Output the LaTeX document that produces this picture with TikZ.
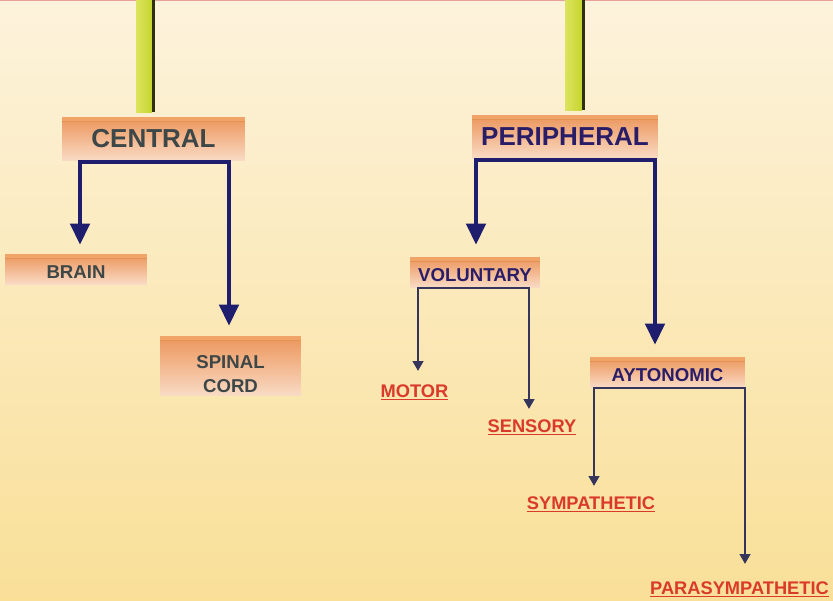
\documentclass[tikz,border=0pt]{standalone}
\usepackage{fontspec}
\setmainfont{Liberation Sans}
\usetikzlibrary{arrows.meta,calc}

\definecolor{bgtop}{HTML}{FDF3DC}
\definecolor{bgbot}{HTML}{F9DF98}
\definecolor{topline}{HTML}{E7A39A}
\definecolor{boxtop}{HTML}{EC955A}
\definecolor{boxbot}{HTML}{F9DAC4}
\definecolor{boxband}{HTML}{F0A468}
\definecolor{graytext}{HTML}{3D4747}
\definecolor{navytext}{HTML}{2A1D68}
\definecolor{redtext}{HTML}{D93A2A}
\definecolor{bignavy}{HTML}{1F1D6E}
\definecolor{smallnavy}{HTML}{35355C}
\definecolor{pipegreen}{HTML}{C6D52E}
\definecolor{pipelight}{HTML}{DCE45E}
\definecolor{pipedark}{HTML}{2E300E}

% underlined red labels
\newcommand{\ulabel}[1]{\setbox0\hbox{#1}\rlap{\rule[-1.7pt]{\wd0}{0.7pt}}\box0}

\tikzset{
  box/.style={inner sep=0pt, top color=boxtop, bottom color=boxbot,
    path picture={\fill[boxband] (path picture bounding box.north west)
      rectangle ([yshift=-2.6pt]path picture bounding box.north east);
      \draw[boxtop!80!brown, line width=0.4pt]
        ([yshift=-2.6pt]path picture bounding box.north west)
        -- ([yshift=-2.6pt]path picture bounding box.north east);}},
  bigbox/.style={box, minimum height=0.86cm, text height=1.03em,
    font=\bfseries\fontsize{14.8}{16}\selectfont},
  smallbox/.style={box, minimum height=0.6cm, text height=1.05em,
    font=\bfseries\fontsize{10.6}{12}\selectfont},
  redlabel/.style={inner sep=0pt, anchor=base, text=redtext,
    font=\bfseries\fontsize{10.4}{12}\selectfont},
  bigarrow/.style={draw=bignavy, line width=2.3pt,
    {Triangle[width=11pt,length=12pt]}-{Triangle[width=11pt,length=12pt]}},
  smallarrow/.style={draw=smallnavy, line width=1.1pt,
    {Triangle[width=6pt,length=5.5pt]}-{Triangle[width=6pt,length=5.5pt]}},
}

\begin{document}
\begin{tikzpicture}[x=0.02cm, y=-0.02cm]
    % nền
    \useasboundingbox (0,0) rectangle (833,600);
    \fill[top color=bgtop, bottom color=bgbot] (0,0) rectangle (833,600);
    \draw[topline, line width=0.8pt] (0,0.6) -- (833,0.6);

    % hai thanh treo
    \fill[left color=pipelight, right color=pipegreen] (136,0) rectangle (152,112);
    \fill[pipedark] (152,0) rectangle (155,112);
    \fill[left color=pipelight, right color=pipegreen] (565,0) rectangle (582,110);
    \fill[pipedark] (582,0) rectangle (585,110);

    % các hộp
    \node[bigbox, minimum width=3.66cm, text=graytext] (central) at (153.5,138.5) {CENTRAL};
    \node[bigbox, minimum width=3.72cm, text=navytext] (peripheral) at (565,136.5) {PERIPHERAL};
    \node[smallbox, minimum width=2.84cm, text=graytext] (brain) at (76,269) {BRAIN};
    \node[smallbox, minimum width=2.82cm, minimum height=1.18cm, text=graytext,
        align=center, text height=30.9pt, text depth=0pt,
        font=\bfseries\fontsize{10.6}{13.6}\selectfont] (spinal) at (230.5,365.5) {SPINAL\\CORD};
    \node[smallbox, minimum width=2.6cm, text=navytext] (voluntary) at (475,272) {VOLUNTARY};
    \node[smallbox, minimum width=3.1cm, text=navytext] (aytonomic) at (667.5,372) {AYTONOMIC};

    % nhãn đỏ
    \node[redlabel] (motor) at (414.5,397) {\ulabel{MOTOR}};
    \node[redlabel] (sensory) at (532,432) {\ulabel{SENSORY}};
    \node[redlabel] (sympathetic) at (591,509) {\ulabel{SYMPATHETIC}};
    \node[redlabel] (parasympathetic) at (739.5,594) {\ulabel{PARASYMPATHETIC}};

    % mũi tên
    \draw[bigarrow] ($(brain.north)+(4,-9)$) |- ($(central.south)+(0,2)$)
        -| ($(spinal.north)+(-1.5,-10)$);
    \draw[bigarrow] ($(voluntary.north)+(1,-12)$) |- ($(peripheral.south)+(0,2)$)
        -| ($(aytonomic.north)+(-12.5,-12)$);
    \draw[smallarrow] ($(motor.north)+(3.5,-13)$) |- ($(voluntary.south)+(0,1)$)
        -| ($(sensory.north)+(-3,-10)$);
    \draw[smallarrow] ($(sympathetic.north)+(3,-10)$) |- ($(aytonomic.south)+(0,1)$)
        -| ($(parasympathetic.north)+(5.5,-17)$);
\end{tikzpicture}
\end{document}
